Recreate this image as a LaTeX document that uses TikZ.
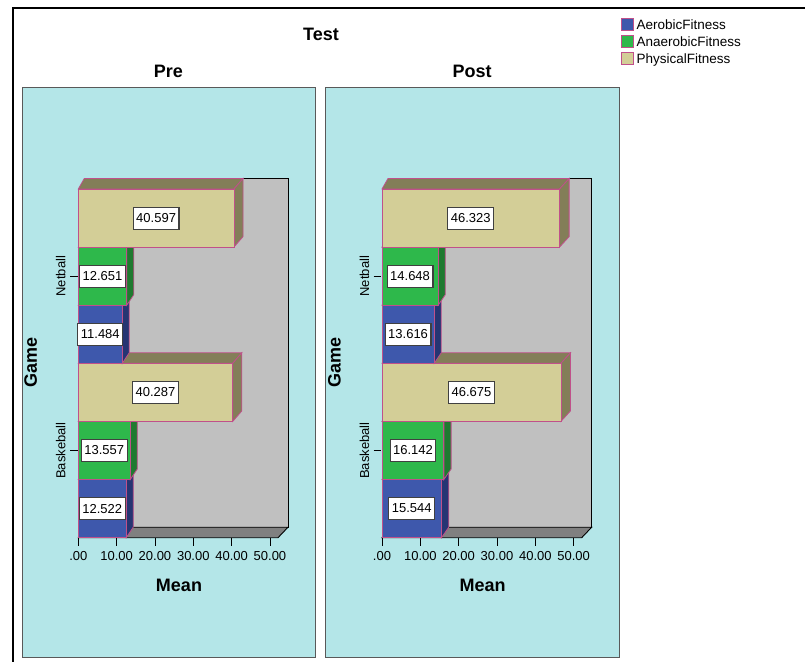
\documentclass[tikz,border=0pt]{standalone}
\usepackage{fontspec}
\setmainfont{Liberation Sans}
\usetikzlibrary{positioning}

\definecolor{paneback}{RGB}{180,230,232}
\definecolor{aerobic}{RGB}{62,88,172}
\definecolor{aerobicside}{RGB}{38,53,115}
\definecolor{anaerobic}{RGB}{46,184,75}
\definecolor{anaerobicside}{RGB}{31,122,48}
\definecolor{physical}{RGB}{211,206,151}
\definecolor{physicalside}{RGB}{131,126,88}
\definecolor{barline}{RGB}{192,80,138}
\definecolor{wallgray}{RGB}{192,192,192}
\definecolor{floorgray}{RGB}{128,128,128}

\begin{document}
\begin{tikzpicture}[x=1pt,y=-1pt,
    small/.style={font=\fontsize{13}{15}\selectfont},
    heading/.style={font=\fontsize{18}{21}\selectfont\bfseries},
    panel/.style={draw=black!65,fill=paneback,line width=0.9pt},
    bar/.style={draw=barline,line width=0.8pt},
    vallabel/.style={small,draw=black!75,fill=white,line width=1.1pt,inner xsep=3pt,inner ysep=0pt,minimum height=22pt},
    swatch/.style={draw=barline,line width=0.9pt,minimum size=11.6pt,inner sep=0pt,outer sep=0pt},
    legtext/.style={font=\fontsize{13.5}{15}\selectfont,inner sep=0pt,outer sep=0pt,text depth=0pt}]

\useasboundingbox (0,0) rectangle (805,662);
\draw[line width=1.5pt] (805,8) -- (13,8) -- (13,662);

\node[heading] (test) at (321,34) {Test};

% legend
\node[swatch,fill=aerobic]                        (sw1) at (627.5,24.2) {};
\node[swatch,fill=anaerobic,below=5.4pt of sw1]   (sw2) {};
\node[swatch,fill=physical,below=5.4pt of sw2]    (sw3) {};
\node[legtext,right=3.4pt of sw1] (lg1) {AerobicFitness};
\node[legtext,right=3.4pt of sw2] (lg2) {AnaerobicFitness};
\node[legtext,right=3.4pt of sw3] (lg3) {PhysicalFitness};

\foreach \p/\name in {0/Pre,1/Post} {
  \pgfmathsetmacro\ox{\p*303.7}
  \draw[panel] (22+\ox,87.7) rectangle (315.5+\ox,657.7);
  \node[heading] (title\p) at (168.5+\ox,71.7) {\name};
  \filldraw[fill=wallgray,draw=black,line width=0.9pt] (84.3+\ox,178) rectangle (288+\ox,527.2);
  \filldraw[fill=floorgray,draw=black,line width=0.9pt] (78.3+\ox,537.7) -- (278+\ox,537.7)
      -- (288+\ox,527.2) -- (84.3+\ox,527.2) -- cycle;
  \foreach \k/\t in {0/.00,1/10.00,2/20.00,3/30.00,4/40.00,5/50.00} {
    \draw[line width=0.9pt] (78.3+\ox+\k*38.33,537.7) -- ++(0,8);
    \node[small] (tick\p\k) at (78.3+\ox+\k*38.33,556) {\t};
  }
  \draw[line width=0.9pt] (70+\ox,276.2) -- (77.5+\ox,276.2);
  \draw[line width=0.9pt] (70+\ox,450.5) -- (77.5+\ox,450.5);
  \node[small,rotate=90] (net\p) at (60.7+\ox,276.2) {Netball};
  \node[small,rotate=90] (bask\p) at (60.7+\ox,450.5) {Baskeball};
  \node[heading,rotate=90] (game\p) at (30.7+\ox,362) {Game};
  \node[heading] (mean\p) at (179+\ox,585) {Mean};
}

% bars, lowest row first
\foreach \p/\row/\val/\c in {0/5/12.522/aerobic,0/4/13.557/anaerobic,0/3/40.287/physical,
    0/2/11.484/aerobic,0/1/12.651/anaerobic,0/0/40.597/physical,
    1/5/15.544/aerobic,1/4/16.142/anaerobic,1/3/46.675/physical,
    1/2/13.616/aerobic,1/1/14.648/anaerobic,1/0/46.323/physical} {
  \pgfmathsetmacro\xa{78.3+\p*303.7}
  \pgfmathsetmacro\xr{\xa+\val*3.833}
  \pgfmathsetmacro\xb{\xa+6+\val*3.833*1.02}
  \pgfmathsetmacro\yt{189+\row*58.1}
  \pgfmathsetmacro\yb{\yt+58.1}
  \filldraw[bar,fill=\c side] (\xa,\yt) -- (\xr,\yt) -- (\xb,\yt-10.5) -- (\xa+6,\yt-10.5) -- cycle;
  \filldraw[bar,fill=\c side] (\xr,\yt) -- (\xb,\yt-10.5) -- (\xb,\yb-10.5) -- (\xr,\yb) -- cycle;
  \filldraw[bar,fill=\c] (\xa,\yt) rectangle (\xr,\yb);
  \node[vallabel] (val\p\row) at ({(\xa+\xr)/2},{(\yt+\yb)/2}) {\val};
}
\end{tikzpicture}
\end{document}
